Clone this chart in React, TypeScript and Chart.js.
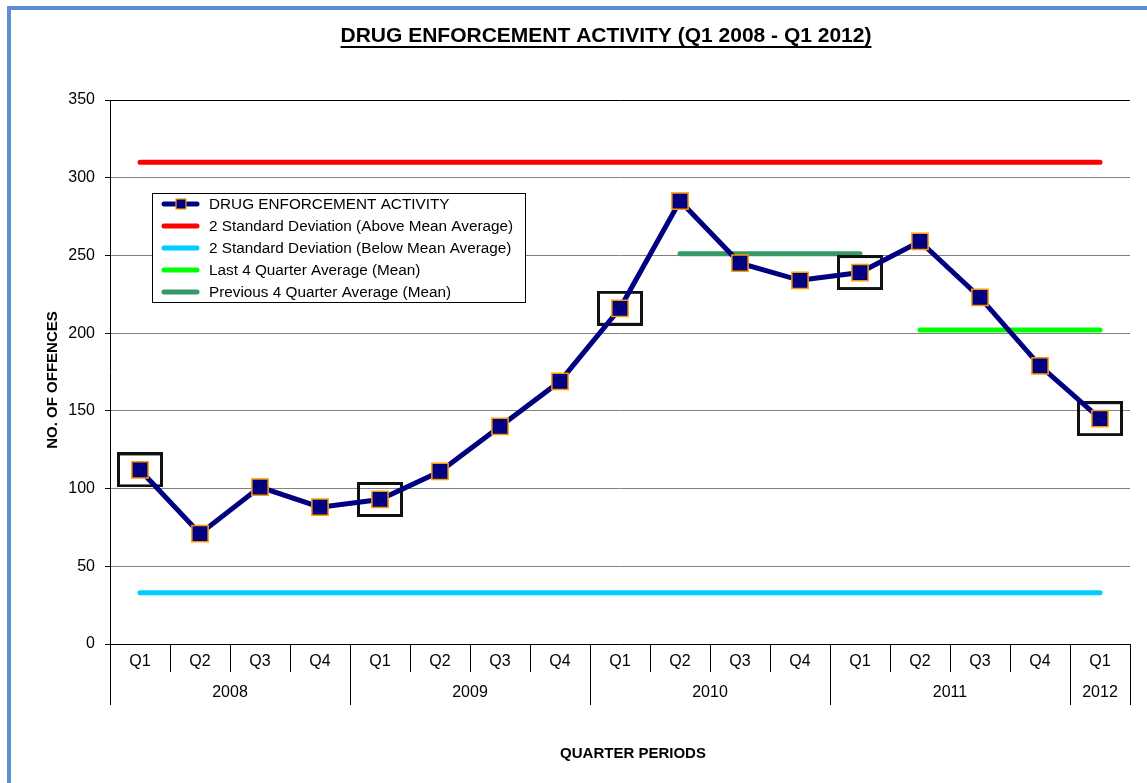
import React, { useEffect, useRef } from "react";
import { Chart, registerables } from "chart.js";

Chart.register(...registerables);

const TITLE = "DRUG ENFORCEMENT ACTIVITY (Q1 2008 - Q1 2012)";
const Y_TITLE = "NO. OF OFFENCES";
const X_TITLE = "QUARTER PERIODS";

const QUARTERS = ["Q1", "Q2", "Q3", "Q4", "Q1", "Q2", "Q3", "Q4", "Q1", "Q2", "Q3", "Q4", "Q1", "Q2", "Q3", "Q4", "Q1"];
const YEARS = ["2008", "2009", "2010", "2011", "2012"];
const YEAR_SPANS = [4, 4, 4, 4, 1];

const ACTIVITY = [112, 71, 101, 88, 93, 111, 140, 169, 216, 285, 245, 234, 239, 259, 223, 179, 145];
const UPPER_2SD = [310, 310, 310, 310, 310, 310, 310, 310, 310, 310, 310, 310, 310, 310, 310, 310, 310];
const LOWER_2SD = [33, 33, 33, 33, 33, 33, 33, 33, 33, 33, 33, 33, 33, 33, 33, 33, 33];
const LAST_4_AVG = [null, null, null, null, null, null, null, null, null, null, null, null, null, 202, 202, 202, 202];
const PREV_4_AVG = [null, null, null, null, null, null, null, null, null, 251, 251, 251, 251, null, null, null, null];
const HIGHLIGHTED = [0, 4, 8, 12, 16];

const Y_TICKS_MAX = 350;
const Y_TICKS_STEP = 50;

const FONT = '"Liberation Sans", Arial, sans-serif';

const NAVY = "#000080";
const ORANGE = "#FF9900";
const RED = "#FF0000";
const CYAN = "#00CCFF";
const LIME = "#00FF00";
const SEA = "#339966";

const LEGEND_ITEMS = [
  { label: "DRUG ENFORCEMENT ACTIVITY", color: NAVY, marker: true },
  { label: "2 Standard Deviation (Above Mean Average)", color: RED, marker: false },
  { label: "2 Standard Deviation (Below Mean Average)", color: CYAN, marker: false },
  { label: "Last 4 Quarter Average (Mean)", color: LIME, marker: false },
  { label: "Previous 4 Quarter Average (Mean)", color: SEA, marker: false },
];

const customPlugin = {
  id: "customDecor",
  afterDraw(chart: any) {
    const ctx = chart.ctx as CanvasRenderingContext2D;
    const xs = chart.scales.x;
    const area = chart.chartArea;
    ctx.save();
    ctx.fillStyle = "#000";

    // Title
    ctx.font = `bold 21px ${FONT}`;
    ctx.textAlign = "center";
    ctx.textBaseline = "middle";
    ctx.fillText(TITLE, 606, 36);
    const tw = ctx.measureText(TITLE).width;
    ctx.strokeStyle = "#000";
    ctx.lineWidth = 1.8;
    ctx.beginPath();
    ctx.moveTo(606 - tw / 2, 47);
    ctx.lineTo(606 + tw / 2, 47);
    ctx.stroke();

    // X axis category labels & separators
    const step = xs.getPixelForValue(1) - xs.getPixelForValue(0);
    ctx.font = `16px ${FONT}`;
    QUARTERS.forEach((q, i) => {
      ctx.fillText(q, xs.getPixelForValue(i), area.bottom + 18);
    });
    const yearBounds: number[] = [0];
    YEAR_SPANS.forEach((s) => yearBounds.push(yearBounds[yearBounds.length - 1] + s));
    ctx.strokeStyle = "#000";
    ctx.lineWidth = 1;
    for (let b = 0; b <= QUARTERS.length; b++) {
      const px = Math.round(xs.getPixelForValue(0) - step / 2 + b * step) + 0.5;
      const isYear = yearBounds.includes(b);
      ctx.beginPath();
      ctx.moveTo(px, area.bottom);
      ctx.lineTo(px, area.bottom + (isYear ? 61 : 28));
      ctx.stroke();
    }
    YEARS.forEach((y, k) => {
      const a = yearBounds[k];
      const e = yearBounds[k + 1];
      const cx = xs.getPixelForValue(0) - step / 2 + ((a + e) / 2) * step;
      ctx.fillText(y, cx, area.bottom + 49);
    });

    // Axis titles
    ctx.font = `bold 15px ${FONT}`;
    ctx.fillText(X_TITLE, 633, 754);
    ctx.save();
    ctx.translate(53, (area.top + area.bottom) / 2 + 8);
    ctx.rotate(-Math.PI / 2);
    ctx.fillText(Y_TITLE, 0, 0);
    ctx.restore();

    // Legend
    const lx = 152.5, ly = 193.5, lw = 373, lh = 109;
    ctx.fillStyle = "#fff";
    ctx.fillRect(lx, ly, lw, lh);
    ctx.strokeStyle = "#000";
    ctx.lineWidth = 1;
    ctx.strokeRect(lx, ly, lw, lh);
    ctx.font = `15.3px ${FONT}`;
    ctx.textAlign = "left";
    LEGEND_ITEMS.forEach((it, i) => {
      const cy = 204 + i * 22;
      ctx.strokeStyle = it.color;
      ctx.lineWidth = 5;
      ctx.lineCap = "round";
      ctx.beginPath();
      ctx.moveTo(164, cy);
      ctx.lineTo(197, cy);
      ctx.stroke();
      if (it.marker) {
        ctx.fillStyle = NAVY;
        ctx.fillRect(176, cy - 5, 10, 10);
        ctx.strokeStyle = ORANGE;
        ctx.lineWidth = 1.2;
        ctx.strokeRect(176, cy - 5, 10, 10);
      }
      ctx.fillStyle = "#000";
      ctx.fillText(it.label, 209, cy + 1);
    });
    ctx.restore();
  },
};

function makeBoxImage(): HTMLCanvasElement {
  const c = document.createElement("canvas");
  c.width = 46;
  c.height = 35;
  const g = c.getContext("2d")!;
  g.strokeStyle = "#111";
  g.lineWidth = 3;
  g.strokeRect(1.5, 1.5, 43, 32);
  return c;
}

export default function App() {
  const ref = useRef<HTMLCanvasElement | null>(null);

  useEffect(() => {
    if (!ref.current) return;
    const boxImg = makeBoxImage();
    const boxed = ACTIVITY.map((v, i) => (HIGHLIGHTED.includes(i) ? v : null));
    const lineBase = {
      borderWidth: 5,
      borderCapStyle: "round" as const,
      pointRadius: 0,
      fill: false,
      spanGaps: false,
    };
    const chart = new Chart(ref.current, {
      type: "line",
      data: {
        labels: QUARTERS.map((q, i) => `${q}-${i}`),
        datasets: [
          {
            label: "DRUG ENFORCEMENT ACTIVITY",
            data: ACTIVITY,
            borderColor: NAVY,
            backgroundColor: NAVY,
            borderWidth: 5,
            pointStyle: "rect",
            pointRadius: 11.5,
            pointBackgroundColor: NAVY,
            pointBorderColor: ORANGE,
            pointBorderWidth: 1.5,
            order: 0,
          },
          {
            label: "Q1 highlight",
            data: boxed,
            showLine: false,
            pointStyle: boxImg as any,
            pointRadius: 20,
            order: 1,
          },
          { ...lineBase, label: "Previous 4 Quarter Average (Mean)", data: PREV_4_AVG, borderColor: SEA, order: 2 },
          { ...lineBase, label: "Last 4 Quarter Average (Mean)", data: LAST_4_AVG, borderColor: LIME, order: 3 },
          { ...lineBase, label: "2 Standard Deviation (Above Mean Average)", data: UPPER_2SD, borderColor: RED, order: 4 },
          { ...lineBase, label: "2 Standard Deviation (Below Mean Average)", data: LOWER_2SD, borderColor: CYAN, order: 5 },
        ] as any,
      },
      options: {
        responsive: false,
        animation: false,
        layout: { autoPadding: false, padding: { left: 50, top: 100, right: 17, bottom: 139 } },
        plugins: {
          legend: { display: false },
          tooltip: { enabled: false },
          title: { display: false },
        },
        scales: {
          x: { display: false, type: "category", offset: true },
          y: {
            min: 0,
            max: Y_TICKS_MAX,
            afterFit: (s: any) => {
              s.width = 60;
            },
            ticks: {
              stepSize: Y_TICKS_STEP,
              color: "#000",
              padding: 10,
              font: { size: 16, family: FONT },
            },
            grid: {
              color: (c: any) => (c.tick && (c.tick.value === Y_TICKS_MAX || c.tick.value === 0) ? "#000" : "#808080"),
              lineWidth: 1,
              tickLength: 5,
              tickColor: "#000",
            },
            border: { display: true, color: "#000", width: 1 },
          },
        },
      } as any,
      plugins: [customPlugin],
    });
    return () => chart.destroy();
  }, []);

  return (
    <div style={{ position: "fixed", left: 0, top: 0, width: 1147, height: 783, overflow: "hidden", background: "#fff" }}>
      <div
        style={{
          position: "absolute",
          left: 7,
          top: 6,
          width: 1300,
          height: 900,
          border: "4px solid #5B8ED6",
          boxSizing: "border-box",
        }}
      />
      <canvas ref={ref} width={1147} height={783} style={{ position: "absolute", left: 0, top: 0, width: 1147, height: 783 }} />
    </div>
  );
}
